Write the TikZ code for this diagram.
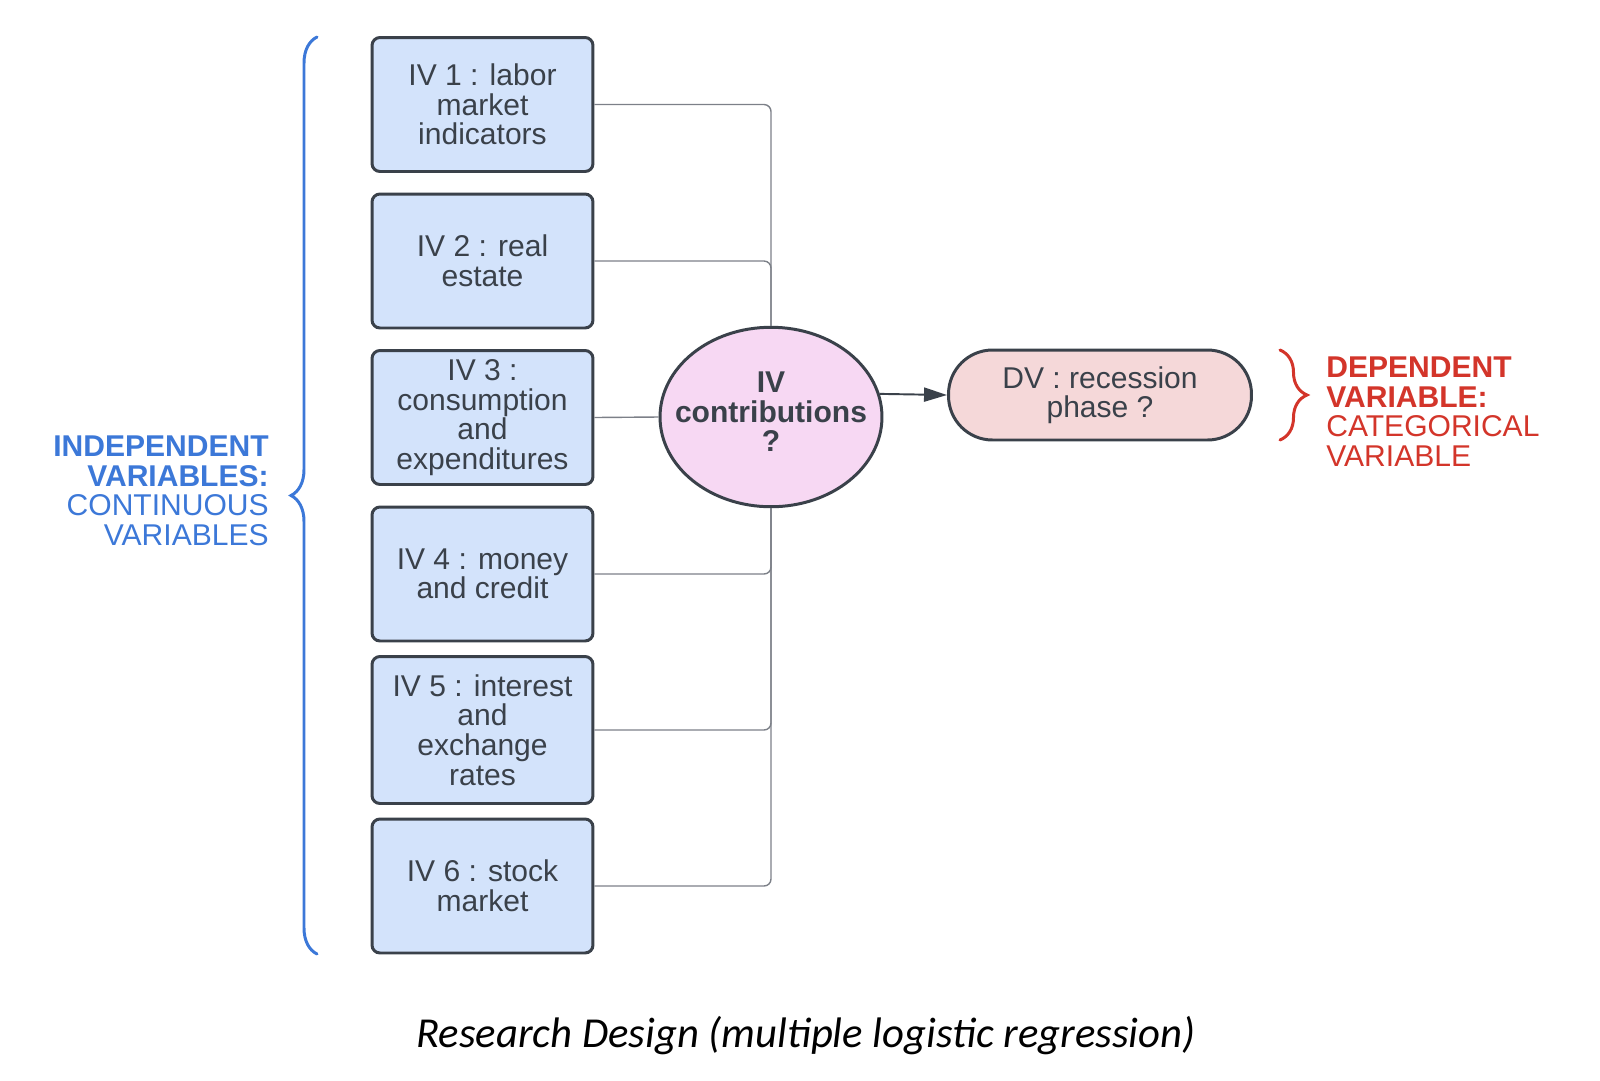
\documentclass[tikz,border=0pt]{standalone}
\usepackage{fontspec}
\setmainfont{Liberation Sans}
\newfontfamily\carlito{Carlito}
\usetikzlibrary{shapes.geometric,arrows.meta,decorations.pathreplacing}
\definecolor{edgegray}{HTML}{3A414A}
\definecolor{linegray}{HTML}{7C8088}
\definecolor{boxblue}{HTML}{D3E3FB}
\definecolor{circpink}{HTML}{F7D8F3}
\definecolor{dvpink}{HTML}{F5D8D9}
\definecolor{ivtblue}{HTML}{3C78D8}
\definecolor{dvtred}{HTML}{D3352A}
\tikzstyle{ivbox}=[draw=edgegray,line width=1.7pt,fill=boxblue,rounded corners=4.5pt,minimum width=4.42cm,minimum height=2.68cm,inner sep=0pt,align=center,text=edgegray,font=\fontsize{17.1}{16.8}\selectfont]
\tikzstyle{ivcirc}=[ellipse,draw=edgegray,line width=1.7pt,fill=circpink,minimum width=4.44cm,minimum height=3.59cm,inner sep=0pt]
\tikzstyle{ivctext}=[align=center,inner sep=0pt,text=edgegray,font=\fontsize{17.1}{16.8}\selectfont\bfseries]
\tikzstyle{dvnode}=[draw=edgegray,line width=1.7pt,fill=dvpink,rounded corners=0.88cm,minimum width=6.06cm,minimum height=1.8cm,inner sep=0pt,align=center,text=edgegray,font=\fontsize{17.1}{16.8}\selectfont]
\tikzstyle{sidetext}=[inner sep=0pt,font=\fontsize{17.1}{16.8}\selectfont]
\tikzstyle{conn}=[draw=linegray,line width=0.8pt,rounded corners=4pt]
\tikzstyle{arrline}=[draw=edgegray,line width=1.1pt,-{Triangle[length=4.6mm,width=2.8mm]}]
\tikzstyle{bracebar}=[decorate,line width=1.7pt,line cap=round]

\begin{document}
\begin{tikzpicture}[x=0.02cm,y=-0.02cm]
    \useasboundingbox (0,0) rectangle (1600,1080);
    % independent variables
    \node[ivbox] (iv1) at (482.5,104.5) {IV 1 : labor\\market\\indicators};
    \node[ivbox] (iv2) at (482.5,261) {IV 2 : real\\estate};
    \node[ivbox] (iv3) at (482.5,417.5) {IV 3 :\\consumption\\and\\expenditures};
    \node[ivbox] (iv4) at (482.5,574) {IV 4 : money\\and credit};
    \node[ivbox,minimum height=2.94cm] (iv5) at (482.5,730) {IV 5 : interest\\and\\exchange\\rates};
    \node[ivbox] (iv6) at (482.5,886) {IV 6 : stock\\market};

    % contributions and outcome
    \node[ivcirc] (ivc) at (771,417) {};
    \node[ivctext] (ivctxt) at (771,412) {IV\\contributions\\?};
    \node[dvnode] (dv) at (1100,395) {DV : recession\\phase ?};

    \foreach \from in {iv1,iv2}
    \draw[conn] (\from.east) -| (ivc.north);
    \draw[conn] (iv3.east) -- (ivc.west);
    \foreach \from in {iv4,iv5,iv6}
    \draw[conn] (\from.east) -| (ivc.south);
    \draw[arrline] (ivc.12) -- (dv.west);

    % braces and their labels
    \coordinate (lbrbot) at (317,954);
    \coordinate (lbrtop) at (317,37);
    \coordinate (rbrtop) at (1280,350);
    \coordinate (rbrbot) at (1280,440);
    \draw[bracebar,draw=ivtblue,decoration={brace,amplitude=0.52cm}] (lbrbot) -- (lbrtop);
    \draw[bracebar,draw=dvtred,decoration={brace,amplitude=0.54cm}] (rbrtop) -- (rbrbot);
    \node[sidetext,text=ivtblue,align=right,anchor=east] (ivlabel) at (269,491)
        {\textbf{INDEPENDENT}\\\textbf{VARIABLES:}\\CONTINUOUS\\VARIABLES};
    \node[sidetext,text=dvtred,align=left,anchor=west] (dvlabel) at (1326,411.5)
        {\textbf{DEPENDENT}\\\textbf{VARIABLE:}\\CATEGORICAL\\VARIABLE};

    \node[font=\carlito\itshape\fontsize{24.3}{28}\selectfont,inner sep=0pt,anchor=base] (caption) at (806,1047)
        {Research Design (multiple logistic regression)};
\end{tikzpicture}
\end{document}
